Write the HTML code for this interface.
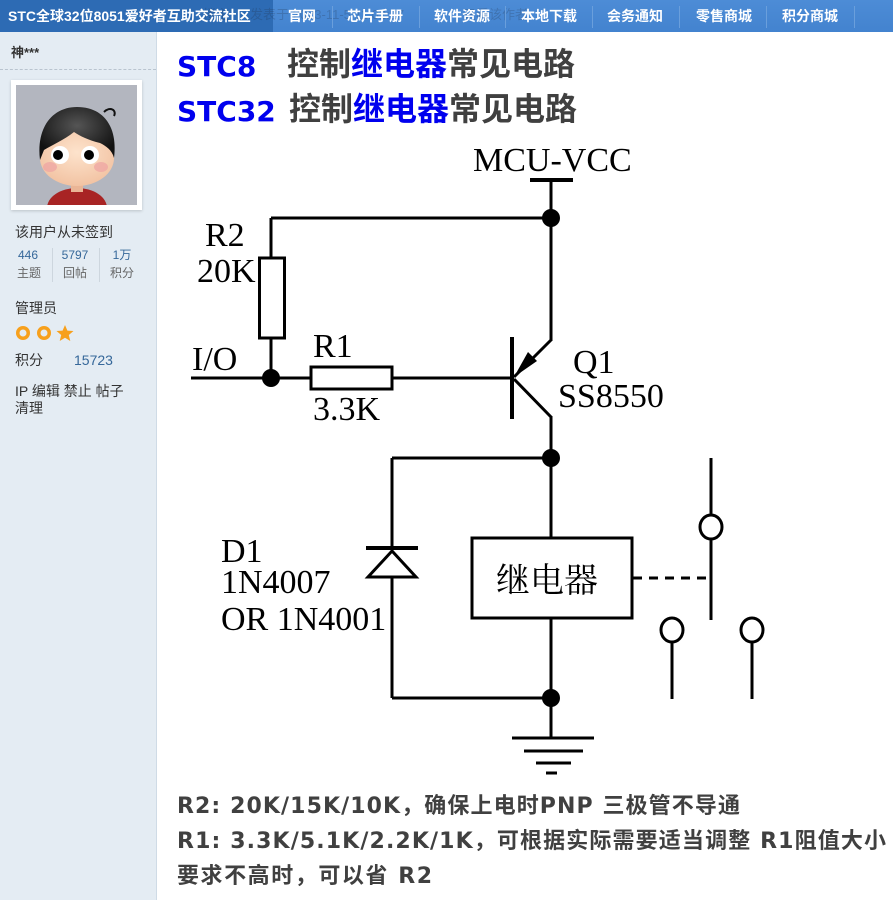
<!DOCTYPE html>
<html><head><meta charset="utf-8">
<style>
*{margin:0;padding:0;box-sizing:border-box}
body{width:893px;height:900px;overflow:hidden;background:#fff;font-family:"Liberation Sans","Noto Sans CJK SC",sans-serif;position:relative}
#hdr{position:absolute;left:0;top:0;width:893px;height:32px;background:linear-gradient(#4d8cd6,#4383cf)}
#hdrl{position:absolute;left:0;top:0;width:273px;height:32px;background:#2d6bb4}
.ht{position:absolute;top:8px;color:#fff;font-weight:bold;font-size:14px;line-height:17px;white-space:nowrap}
.sep{position:absolute;top:6px;width:1px;height:22px;background:#6a9fdc}
.faint{position:absolute;top:6px;font-size:13px;color:rgba(30,40,60,0.22);white-space:nowrap;line-height:17px}
#side{position:absolute;left:0;top:32px;width:157px;height:868px;background:#e4ecf3;border-right:1px solid #cfdbe6}
.st{position:absolute;font-size:14px;color:#333;white-space:nowrap;line-height:16px}
.num{position:absolute;font-size:12px;color:#36689a;width:40px;text-align:center;line-height:14px}
.lab{position:absolute;font-size:12px;color:#666;width:40px;text-align:center;line-height:14px}
.dv{position:absolute;top:248px;width:1px;height:34px;background:#cdd6de}
#frame{position:absolute;left:11px;top:80px;width:131px;height:130px;background:#fff;box-shadow:0 1px 3px rgba(0,0,0,0.18)}
svg{position:absolute;left:0;top:0}
</style></head><body>
<div id="hdr"></div>
<div id="hdrl"></div>
<div class="faint" style="left:203px">楼主</div>
<div class="faint" style="left:250px">发表于 2023-11-5 11:02:27</div>
<div class="faint" style="left:463px">只看该作者</div>
<div class="ht" style="left:8px">STC全球32位8051爱好者互助交流社区</div>
<div class="ht" style="left:288px">官网</div>
<div class="sep" style="left:332px"></div>
<div class="ht" style="left:347px">芯片手册</div>
<div class="sep" style="left:419px"></div>
<div class="ht" style="left:434px">软件资源</div>
<div class="sep" style="left:505px"></div>
<div class="ht" style="left:521px">本地下载</div>
<div class="sep" style="left:592px"></div>
<div class="ht" style="left:607px">会务通知</div>
<div class="sep" style="left:679px"></div>
<div class="ht" style="left:696px">零售商城</div>
<div class="sep" style="left:766px"></div>
<div class="ht" style="left:782px">积分商城</div>
<div class="sep" style="left:854px"></div>

<div id="side"></div>
<div class="st" style="left:11px;top:45px;font-weight:bold;font-size:13px">神***</div>
<div style="position:absolute;left:0;top:69px;width:156px;border-top:1px dashed #b9c4cf"></div>
<div id="frame"></div>
<div class="st" style="left:15px;top:224px">该用户从未签到</div>
<div class="num" style="left:8px;top:248px">446</div>
<div class="lab" style="left:9px;top:266px">主题</div>
<div class="dv" style="left:52px"></div>
<div class="num" style="left:55px;top:248px">5797</div>
<div class="lab" style="left:55px;top:266px">回帖</div>
<div class="dv" style="left:99px"></div>
<div class="num" style="left:102px;top:248px">1万</div>
<div class="lab" style="left:102px;top:266px">积分</div>
<div class="st" style="left:15px;top:300px">管理员</div>
<div class="st" style="left:15px;top:352px">积分</div>
<div class="st" style="left:74px;top:352px;color:#36689a">15723</div>
<div class="st" style="left:15px;top:383px">IP 编辑 禁止 帖子</div>
<div class="st" style="left:15px;top:400px">清理</div>

<svg width="893" height="900" viewBox="0 0 893 900" xmlns="http://www.w3.org/2000/svg">
<defs>
<clipPath id="av"><rect x="16" y="85" width="121" height="120"/></clipPath>
<radialGradient id="hairg" cx="0.5" cy="0.35" r="0.6"><stop offset="0" stop-color="#555"/><stop offset="1" stop-color="#111"/></radialGradient>
<radialGradient id="faceg" cx="0.5" cy="0.4" r="0.6"><stop offset="0" stop-color="#fde3cc"/><stop offset="1" stop-color="#f2c3a3"/></radialGradient>
</defs>
<!-- avatar -->
<g clip-path="url(#av)">
<rect x="16" y="85" width="121" height="120" fill="#b3b6bf"/>
<ellipse cx="77" cy="208" rx="30" ry="20" fill="#a82424"/>
<rect x="71" y="180" width="12" height="12" fill="#eab596"/>
<ellipse cx="77" cy="158" rx="37" ry="28" fill="url(#faceg)"/>
<path d="M40,160 C36,128 52,107 77,107 C103,107 118,126 114,158 C112,150 106,146 100,143 C88,140 80,136 74,132 C64,140 52,145 44,150 Z" fill="url(#hairg)"/>
<path d="M104,112 C110,106 117,110 114,116" stroke="#111" stroke-width="2" fill="none"/>
<ellipse cx="50" cy="167" rx="7" ry="5" fill="#eea2a2" opacity="0.7"/>
<ellipse cx="101" cy="167" rx="7" ry="5" fill="#eea2a2" opacity="0.7"/>
<circle cx="60" cy="155" r="9" fill="#fff"/>
<circle cx="90" cy="155" r="9" fill="#fff"/>
<circle cx="58" cy="155" r="5" fill="#000"/>
<circle cx="89" cy="155" r="5" fill="#000"/>
</g>
<!-- stars -->
<circle cx="23" cy="333" r="7" fill="#f7a01c"/>
<circle cx="23" cy="333" r="3.5" fill="#e4ecf3"/>
<circle cx="44" cy="333" r="7" fill="#f7a01c"/>
<circle cx="44" cy="333" r="3.5" fill="#e4ecf3"/>
<polygon points="65,325 67.4,330.6 73.5,331 68.8,335 70.3,341 65,337.8 59.7,341 61.2,335 56.5,331 62.6,330.6" fill="#f7a01c"/>

<!-- title -->
<g font-family="DejaVu Sans, Noto Sans CJK SC, sans-serif" font-weight="bold">
<text x="177" y="76" font-size="28" fill="#0000ee">STC8</text>
<text x="177" y="121" font-size="28" fill="#0000ee">STC32</text>
</g>
<g font-family="Noto Sans CJK SC, sans-serif" font-weight="bold">
<text x="287" y="75" font-size="32" fill="#404040">控制<tspan fill="#0000ee">继电器</tspan>常见电路</text>
<text x="289" y="120" font-size="32" fill="#404040">控制<tspan fill="#0000ee">继电器</tspan>常见电路</text>
</g>

<!-- circuit -->
<g stroke="#000" stroke-width="3" fill="none" stroke-linecap="butt">
<line x1="530" y1="180" x2="573" y2="180" stroke-width="4"/>
<line x1="551" y1="180" x2="551" y2="341"/>
<line x1="271" y1="218" x2="551" y2="218"/>
<line x1="271" y1="218" x2="271" y2="258"/>
<rect x="259.5" y="258" width="25" height="80"/>
<line x1="271" y1="338" x2="271" y2="378"/>
<line x1="191" y1="378" x2="311" y2="378"/>
<rect x="311" y="367" width="81" height="22"/>
<line x1="392" y1="378" x2="512" y2="378"/>
<line x1="512" y1="337" x2="512" y2="419" stroke-width="4"/>
<line x1="551" y1="340" x2="514" y2="377"/>
<line x1="514" y1="379" x2="551" y2="417"/>
<line x1="551" y1="416" x2="551" y2="538"/>
<line x1="392" y1="458" x2="551" y2="458"/>
<line x1="392" y1="458" x2="392" y2="548"/>
<line x1="366" y1="548" x2="418" y2="548" stroke-width="4"/>
<polygon points="392,551 368,577 416,577" fill="#fff"/>
<line x1="392" y1="577" x2="392" y2="698"/>
<line x1="392" y1="698" x2="551" y2="698"/>
<rect x="472" y="538" width="160" height="80"/>
<line x1="551" y1="618" x2="551" y2="738"/>
<line x1="512" y1="738" x2="594" y2="738"/>
<line x1="524" y1="751" x2="583" y2="751"/>
<line x1="536" y1="763" x2="571" y2="763"/>
<line x1="546" y1="773" x2="557" y2="773"/>
<line x1="633" y1="578" x2="709" y2="578" stroke-dasharray="9 7"/>
<line x1="711" y1="458" x2="711" y2="515"/>
<ellipse cx="711" cy="527" rx="11" ry="12"/>
<line x1="711" y1="539" x2="711" y2="620"/>
<ellipse cx="672" cy="630" rx="11" ry="12"/>
<line x1="672" y1="642" x2="672" y2="699"/>
<ellipse cx="752" cy="630" rx="11" ry="12"/>
<line x1="752" y1="642" x2="752" y2="699"/>
</g>
<polygon points="514,377 537,361 528,352" fill="#000"/>
<g fill="#000">
<circle cx="551" cy="218" r="9"/>
<circle cx="271" cy="378" r="9"/>
<circle cx="551" cy="458" r="9"/>
<circle cx="551" cy="698" r="9"/>
</g>
<g font-family="Liberation Serif, serif" font-size="34" fill="#000">
<text x="473" y="171">MCU-VCC</text>
<text x="205" y="246">R2</text>
<text x="197" y="282">20K</text>
<text x="192" y="370">I/O</text>
<text x="313" y="357">R1</text>
<text x="313" y="420">3.3K</text>
<text x="573" y="373">Q1</text>
<text x="558" y="407">SS8550</text>
<text x="221" y="562">D1</text>
<text x="221" y="593">1N4007</text>
<text x="221" y="630">OR 1N4001</text>
</g>
<text x="547" y="592" text-anchor="middle" font-family="Noto Serif CJK SC, serif" font-size="34" fill="#000">继电器</text>

<!-- bottom notes -->
<g font-family="DejaVu Sans, Noto Sans CJK SC, sans-serif" font-weight="bold" font-size="22" fill="#404040">
<text x="177" y="813" textLength="563" lengthAdjust="spacing">R2: 20K/15K/10K，确保上电时PNP 三极管不导通</text>
<text x="177" y="848" textLength="709" lengthAdjust="spacing">R1: 3.3K/5.1K/2.2K/1K，可根据实际需要适当调整 R1阻值大小</text>
<text x="177" y="883" textLength="255" lengthAdjust="spacing">要求不高时，可以省 R2</text>
</g>
</svg>
</body></html>
